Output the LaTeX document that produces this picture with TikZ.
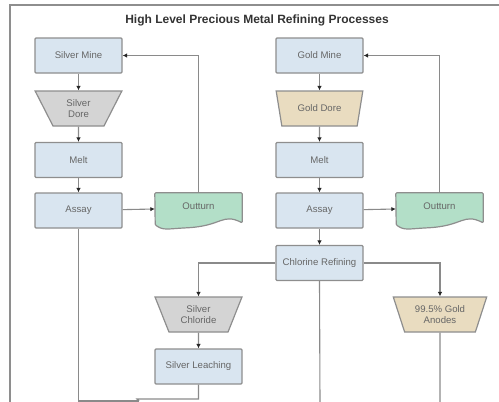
\documentclass[tikz,border=0pt]{standalone}
\usepackage{fontspec}
\setmainfont{Liberation Sans}
\usetikzlibrary{shapes.geometric,arrows.meta}
\definecolor{boxblue}{HTML}{D9E5F0}
\definecolor{boxgrey}{HTML}{D4D4D4}
\definecolor{boxgold}{HTML}{E9DCC0}
\definecolor{boxgreen}{HTML}{B3DFC8}
\definecolor{edgegrey}{HTML}{8E8E8E}
\definecolor{linegrey}{HTML}{8A8A8A}
\definecolor{txtgrey}{HTML}{666666}
\tikzset{
  procbox/.style={draw=edgegrey,line width=1.2pt,fill=boxblue,rounded corners=1pt,
    minimum width=87pt,minimum height=35pt,inner sep=0pt,align=center,
    text=txtgrey,font=\fontsize{9.6}{11}\selectfont},
  trap/.style={trapezium,trapezium stretches=true,shape border rotate=180,
    trapezium angle=65,draw=edgegrey,line width=1.2pt,
    minimum width=87pt,minimum height=35pt,inner sep=0pt,align=center,
    text=txtgrey,font=\fontsize{9.6}{11}\selectfont},
  docnode/.style={minimum width=87pt,minimum height=32pt,inner sep=0pt,
    text=txtgrey,font=\fontsize{9.6}{11}\selectfont},
  docshape/.style={draw=edgegrey,line width=1.2pt,fill=boxgreen,rounded corners=1pt},
  conn/.style={draw=linegrey,line width=1.1pt},
  arr/.style={draw=linegrey,line width=1.1pt,-{Latex[length=4.5pt,width=4.5pt,color=black!85]}},
  frameline/.style={draw=edgegrey,line width=1.3pt}
}
\begin{document}
\begin{tikzpicture}[x=1pt,y=-1pt]
\useasboundingbox (0,0) rectangle (499,402);
% frame
\coordinate (f0) at (10,5);
\coordinate (f1) at (499,5);
\coordinate (f2) at (10,402);
\draw[frameline] (f1) -- (f0) -- (f2);
% title
\node[font=\bfseries\fontsize{12}{14}\selectfont,text=black!80] (title) at (257,20) {High Level Precious Metal Refining Processes};
% silver column
\node[procbox] (sm) at (78.5,55.5) {Silver Mine};
\node[trap,fill=boxgrey] (sd) at (78.5,108.5) {Silver\\Dore};
\node[procbox] (sme) at (78.5,160) {Melt};
\node[procbox] (sa) at (78.5,210.5) {Assay};
\node[docnode] (so) at (198.5,209) {};
\draw[docshape] (so.north west) -- (so.north east) -- ++(0,30)
  .. controls ++(-20,-10) and ++(35,-2) .. ++(-55,5)
  .. controls ++(-20,1) and ++(8,6) .. ++(-32,-3) -- cycle;
\node[text=txtgrey,font=\fontsize{9.6}{11}\selectfont] (sot) at (198.5,206) {Outturn};
% gold column
\node[procbox] (gm) at (319.5,55.5) {Gold Mine};
\node[trap,fill=boxgold] (gd) at (319.5,108.5) {Gold Dore};
\node[procbox] (gme) at (319.5,160) {Melt};
\node[procbox] (ga) at (319.5,210.5) {Assay};
\node[docnode] (go) at (439.5,209) {};
\draw[docshape] (go.north west) -- (go.north east) -- ++(0,30)
  .. controls ++(-20,-10) and ++(35,-2) .. ++(-55,5)
  .. controls ++(-20,1) and ++(8,6) .. ++(-32,-3) -- cycle;
\node[text=txtgrey,font=\fontsize{9.6}{11}\selectfont] (got) at (439.5,206) {Outturn};
\node[procbox] (cr) at (319.5,263) {Chlorine Refining};
\node[trap,fill=boxgrey] (sc) at (198.5,314.5) {Silver\\Chloride};
\node[procbox] (sl) at (198.5,366.5) {Silver Leaching};
\node[trap,fill=boxgold,minimum width=94pt,trapezium angle=66] (an) at (440,314.5) {99.5\% Gold\\Anodes};
% bottom coordinates
\coordinate (j1) at (139,401);
\coordinate (j2) at (137,399);
\coordinate (crb) at (320,402);
\coordinate (anb) at (440,402);
% connectors
\draw[arr] (sm) -- (sd);
\draw[arr] (sd) -- (sme);
\draw[arr] (sme) -- (sa);
\draw[arr] (sa) -- (so.west);
\draw[arr] (so.north) |- (sm.east);
\draw[arr] (gm) -- (gd);
\draw[arr] (gd) -- (gme);
\draw[arr] (gme) -- (ga);
\draw[arr] (ga) -- (go.west);
\draw[arr] (go.north) |- (gm.east);
\draw[arr] (ga) -- (cr);
\draw[arr] (cr.west) -| (sc.north);
\draw[arr] (cr.east) -| (an.north);
\draw[arr] (sc) -- (sl);
\draw[conn] (sa.south) |- (j1);
\draw[conn] (sl.south) |- (j2) -- (j1);
\draw[conn] (cr.south) -- (crb);
\draw[conn] (an.south) -- (anb);
\end{tikzpicture}
\end{document}
